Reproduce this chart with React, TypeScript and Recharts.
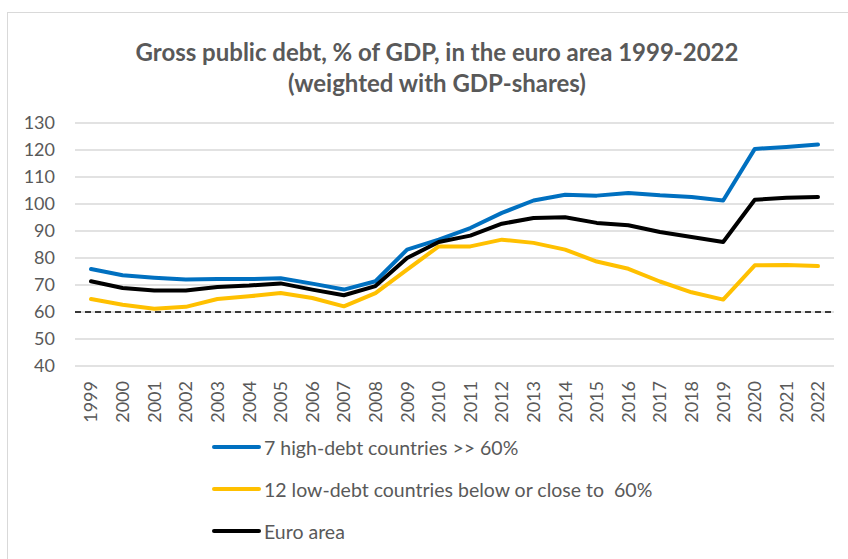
import React from "react";
import { CartesianGrid, Line, LineChart, ReferenceLine, XAxis, YAxis } from "recharts";

const years = [
  "1999", "2000", "2001", "2002", "2003", "2004", "2005", "2006", "2007", "2008", "2009", "2010",
  "2011", "2012", "2013", "2014", "2015", "2016", "2017", "2018", "2019", "2020", "2021", "2022",
];

// gross debt, % of GDP
const highDebt = [
  75.9, 73.6, 72.7, 72.0, 72.2, 72.2, 72.5, 70.5, 68.3, 71.4, 83.1, 86.8,
  91.1, 96.7, 101.3, 103.4, 103.1, 104.1, 103.2, 102.6, 101.3, 120.4, 121.1, 122.0,
];
const lowDebt = [
  64.8, 62.7, 61.2, 61.9, 64.8, 65.8, 67.0, 65.2, 62.1, 67.0, 75.7, 84.3,
  84.3, 86.8, 85.6, 83.1, 78.7, 76.0, 71.3, 67.3, 64.6, 77.3, 77.4, 77.0,
];
const euroArea = [
  71.4, 68.9, 68.0, 68.0, 69.3, 69.8, 70.6, 68.3, 66.2, 69.6, 80.0, 85.9,
  88.3, 92.7, 94.8, 95.1, 93.0, 92.1, 89.6, 87.8, 85.9, 101.6, 102.3, 102.6,
];

const yTicks = [40, 50, 60, 70, 80, 90, 100, 110, 120, 130];
const threshold = 60;

const SERIES = [
  { key: "high", name: "7 high-debt countries >> 60%", color: "#0070C0" },
  { key: "low", name: "12 low-debt countries below or close to  60%", color: "#FFC000" },
  { key: "euro", name: "Euro area", color: "#000000" },
];

const data = years.map((year, i) => ({
  year,
  high: highDebt[i],
  low: lowDebt[i],
  euro: euroArea[i],
}));

const FONT = "Lato, 'Open Sans', sans-serif";
const TEXT = "#595959";

function YearTick({ x, y, payload }: any) {
  const ty = y + 7;
  return (
    <text
      x={x}
      y={ty}
      transform={`rotate(-90, ${x}, ${ty})`}
      textAnchor="end"
      dy="0.36em"
      fill={TEXT}
      fontSize={18}
      fontFamily={FONT}
    >
      {payload.value}
    </text>
  );
}

export default function App() {
  return (
    <div style={{ position: "absolute", left: 0, top: 0, width: 848, height: 559, background: "#fff", fontFamily: FONT }}>
      <div
        style={{
          position: "absolute",
          left: 7,
          top: 12,
          width: 841,
          height: 547,
          borderTop: "1px solid #d9d9d9",
          borderLeft: "1px solid #d9d9d9",
        }}
      />
      <div
        style={{
          position: "absolute",
          left: 0,
          width: 874,
          top: 36,
          textAlign: "center",
          color: TEXT,
          fontWeight: 700,
          fontSize: 24,
          lineHeight: "31px",
        }}
      >
        Gross public debt, % of GDP, in the euro area 1999-2022
        <br />
        (weighted with GDP-shares)
      </div>

      <LineChart
        width={848}
        height={559}
        data={data}
        margin={{ top: 123, right: 14, bottom: 133, left: 15 }}
      >
        <CartesianGrid horizontal vertical={false} stroke="#d9d9d9" strokeWidth={1.3} />
        <XAxis
          dataKey="year"
          interval={0}
          axisLine={false}
          tickLine={false}
          height={60}
          padding={{ left: 16, right: 16 }}
          tick={<YearTick />}
        />
        <YAxis
          domain={[40, 130]}
          ticks={yTicks}
          width={60}
          axisLine={false}
          tickLine={false}
          tickMargin={14}
          tick={{ fill: TEXT, fontSize: 18, fontFamily: FONT }}
        />
        <ReferenceLine y={threshold} stroke="#000" strokeWidth={1.5} strokeDasharray="6 4" />
        {SERIES.map((s) => (
          <Line
            key={s.key}
            dataKey={s.key}
            name={s.name}
            stroke={s.color}
            strokeWidth={4}
            dot={false}
            strokeLinecap="round"
            strokeLinejoin="round"
            isAnimationActive={false}
          />
        ))}
      </LineChart>

      {SERIES.map((s, i) => (
        <div
          key={s.key}
          style={{
            position: "absolute",
            left: 212,
            top: 447 + i * 42 - 14,
            height: 28,
            display: "flex",
            alignItems: "center",
            color: TEXT,
            fontSize: 19.5,
            whiteSpace: "pre",
          }}
        >
          <span
            style={{
              display: "inline-block",
              width: 49,
              height: 4,
              borderRadius: 2,
              background: s.color,
              marginRight: 3,
            }}
          />
          {s.name}
        </div>
      ))}
    </div>
  );
}
